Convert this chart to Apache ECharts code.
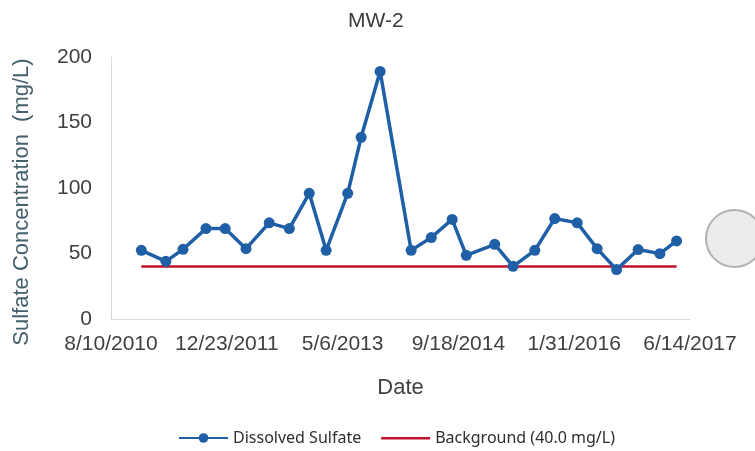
<!DOCTYPE html>
<html>
<head>
<meta charset="utf-8">
<script src="https://cdn.jsdelivr.net/npm/echarts@6/dist/echarts.min.js"></script>
<style>
  html, body { margin: 0; padding: 0; background: #fff; }
  #chart { width: 755px; height: 451px; }
</style>
</head>
<body>
<div id="chart"></div>
<script>
// sample dates and sulfate results
const sampleDates = [
  '2010-12-19', '2011-04-04', '2011-06-17', '2011-09-24', '2011-12-16',
  '2012-03-15', '2012-06-23', '2012-09-18', '2012-12-13', '2013-02-24',
  '2013-05-28', '2013-07-25', '2013-10-15', '2014-02-26', '2014-05-24',
  '2014-08-22', '2014-10-22', '2015-02-22', '2015-05-12', '2015-08-14',
  '2015-11-08', '2016-02-13', '2016-05-09', '2016-08-01', '2016-11-02',
  '2017-02-04', '2017-04-17'
];
const sulfate = [
  52.4, 44, 53.2, 69, 69,
  53.7, 73.4, 69, 95.9, 52.4,
  95.9, 138.7, 189, 52.4, 62.2,
  76, 48.6, 57, 40.2, 52.4,
  76.7, 73.4, 53.7, 37.7, 53,
  49.9, 59.6
];
const backgroundValue = 40.0;
// x axis runs in days from the first tick date, ticks every 500 days
const axisStart = '2010-08-10';
const tickDays = 500;
const axisEndDays = 2500;

const DAY = 86400000;
const startMs = Date.parse(axisStart + 'T00:00:00Z');
const toDays = d => Math.round((Date.parse(d + 'T00:00:00Z') - startMs) / DAY);
const fmtDate = days => {
  const d = new Date(startMs + days * DAY);
  return (d.getUTCMonth() + 1) + '/' + d.getUTCDate() + '/' + d.getUTCFullYear();
};

const sulfateData = sampleDates.map((d, i) => [toDays(d), sulfate[i]]);
const bgData = [
  [toDays(sampleDates[0]), backgroundValue],
  [toDays(sampleDates[sampleDates.length - 1]), backgroundValue]
];

const chart = echarts.init(document.getElementById('chart'));
const axisFont = 'Liberation Sans, Arial, sans-serif';

chart.setOption({
  animation: false,
  title: {
    text: 'MW-2',
    left: 343,
    top: 6,
    textStyle: { fontFamily: axisFont, fontSize: 21, fontWeight: 'normal', color: '#3a3a3a' }
  },
  grid: { left: 111, right: 65, top: 57, bottom: 132, containLabel: false },
  xAxis: {
    type: 'value',
    min: 0,
    max: axisEndDays,
    interval: tickDays,
    name: 'Date',
    nameLocation: 'middle',
    nameGap: 58,
    nameTextStyle: { fontFamily: axisFont, fontSize: 22, color: '#404040' },
    axisLine: { show: true, lineStyle: { color: '#d9d9d9', width: 1 } },
    axisTick: { show: false },
    splitLine: { show: false },
    axisLabel: {
      margin: 15,
      fontFamily: axisFont,
      fontSize: 21,
      color: '#404040',
      formatter: v => fmtDate(v)
    }
  },
  yAxis: {
    type: 'value',
    min: 0,
    max: 200,
    interval: 50,
    name: 'Sulfate Concentration  (mg/L)',
    nameLocation: 'middle',
    nameGap: 78,
    nameTextStyle: { fontFamily: axisFont, fontSize: 22, color: '#44606c', padding: [0, 28, 0, 0] },
    axisLine: { show: true, lineStyle: { color: '#d9d9d9', width: 1 } },
    axisTick: { show: false },
    splitLine: { show: false },
    axisLabel: { margin: 19, fontFamily: axisFont, fontSize: 21, color: '#404040' }
  },
  legend: {
    left: 178,
    top: 430,
    padding: 0,
    itemWidth: 49,
    itemHeight: 12,
    itemGap: 20,
    textStyle: { fontFamily: 'Noto Sans, sans-serif', fontSize: 16, color: '#2e2e2e' },
    data: [
      'Dissolved Sulfate',
      { name: 'Background (40.0 mg/L)', icon: 'path://M0,0 M49,12 M0,5 L49,5 L49,7.5 L0,7.5 Z' }
    ]
  },
  graphic: [{
    type: 'circle',
    shape: { cx: 734.5, cy: 238.5, r: 28.5 },
    style: { fill: '#ececec', stroke: '#b0b0b0', lineWidth: 2 },
    silent: true
  }],
  series: [
    {
      name: 'Background (40.0 mg/L)',
      type: 'line',
      data: bgData,
      symbol: 'none',
      lineStyle: { color: '#c0102a', width: 2.5 },
      itemStyle: { color: '#c0102a' },
      z: 2
    },
    {
      name: 'Dissolved Sulfate',
      type: 'line',
      data: sulfateData,
      symbol: 'circle',
      symbolSize: 11,
      lineStyle: { color: '#1f5fa6', width: 3.5 },
      itemStyle: { color: '#1f5fa6' },
      z: 3
    }
  ]
});
</script>
</body>
</html>
